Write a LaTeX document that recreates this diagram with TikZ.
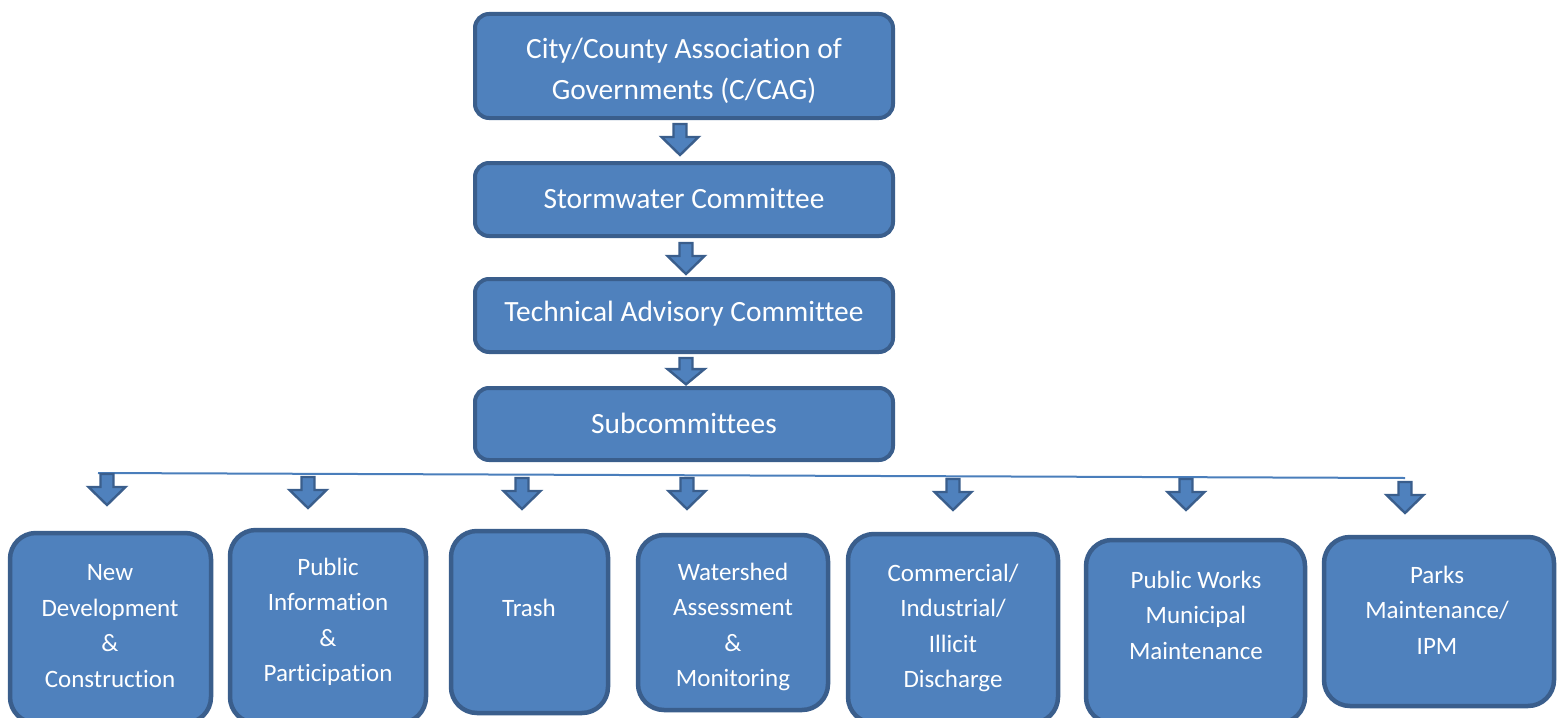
\documentclass[tikz,border=0pt]{standalone}
\usepackage{fontspec}
\setmainfont[Ligatures=NoCommon]{Carlito}
\begin{document}
\begin{tikzpicture}[x=1pt,y=-1pt,
  boxfill/.style={fill={rgb,255:red,79;green,129;blue,189}},
  edge/.style={draw={rgb,255:red,58;green,94;blue,140}},
  topbox/.style={boxfill,edge,line width=4pt,rounded corners=14pt,inner sep=0pt},
  subbox/.style={boxfill,edge,line width=4.5pt,rounded corners=26pt,inner sep=0pt},
  toptext/.style={text=white,font=\fontsize{29.4}{41}\selectfont,align=center},
  subtext/.style={text=white,font=\fontsize{25}{35.5}\selectfont,align=center},
  pics/downarrow/.style={code={
    \draw[boxfill,edge,line width=2.4pt,line join=miter]
      (-6.5,0) -- (6.5,0) -- (6.5,13) -- (18.5,13) -- (0,31) -- (-18.5,13) -- (-6.5,13) -- cycle;}}
]
\useasboundingbox (0,0) rectangle (1562,717);

% main chain
\node[topbox,minimum width=418pt,minimum height=104pt] (cag) at (684,66) {};
\node[toptext] (cagT) at (684,71) {City/County Association of\\Governments (C/CAG)};
\node[topbox,minimum width=418pt,minimum height=73pt] (storm) at (684,199.5) {};
\node[toptext] (stormT) at (684,198) {Stormwater Committee};
\node[topbox,minimum width=418pt,minimum height=73pt] (tac) at (684,315.5) {};
\node[toptext] (tacT) at (684,314) {Technical Advisory Committee};
\node[topbox,minimum width=418pt,minimum height=72pt] (sub) at (684,424) {};
\node[toptext] (subT) at (684,423) {Subcommittees};

% block arrows between the main boxes
\pic at (680,124) {downarrow};
\pic at (686,243) {downarrow};
\pic[yscale=0.85] at (686,358) {downarrow};

% distribution line
\coordinate (lineL) at (98,473);
\coordinate (lineR) at (1405,478);
\draw[draw={rgb,255:red,74;green,126;blue,187},line width=2pt] (lineL) -- (lineR);

% block arrows to the subcommittees
\pic at (107,474) {downarrow};
\pic at (308,477) {downarrow};
\pic at (522,478) {downarrow};
\pic at (687,478) {downarrow};
\pic at (953,479) {downarrow};
\pic at (1186,479) {downarrow};
\pic at (1405,482) {downarrow};

% subcommittee boxes
\node[subbox,minimum width=201pt,minimum height=190pt] (newdev) at (110.5,628) {};
\node[subtext] (newdevT) at (110,626) {New\\Development\\\&\\Construction};
\node[subbox,minimum width=196pt,minimum height=193pt] (pubinfo) at (328,626.5) {};
\node[subtext] (pubinfoT) at (328,622) {Public\\Information\\\&\\Participation};
\node[subbox,minimum width=157pt,minimum height=182pt] (trash) at (529.5,622) {};
\node[subtext] (trashT) at (529,608) {Trash};
\node[subbox,minimum width=190pt,minimum height=175pt] (water) at (733,622.5) {};
\node[subtext] (waterT) at (733,627) {Watershed\\Assessment\\\&\\Monitoring};
\node[subbox,minimum width=210pt,minimum height=189pt] (comm) at (953,628.5) {};
\node[subtext] (commT) at (953,628) {Commercial/\\Industrial/\\Illicit\\Discharge};
\node[subbox,minimum width=219pt,minimum height=183pt] (works) at (1195.5,631.5) {};
\node[subtext] (worksT) at (1196,615) {Public Works\\Municipal\\Maintenance};
\node[subbox,minimum width=230pt,minimum height=169pt] (parks) at (1439,621.5) {};
\node[subtext] (parksT) at (1437,610) {Parks\\Maintenance/\\IPM};
\end{tikzpicture}
\end{document}
